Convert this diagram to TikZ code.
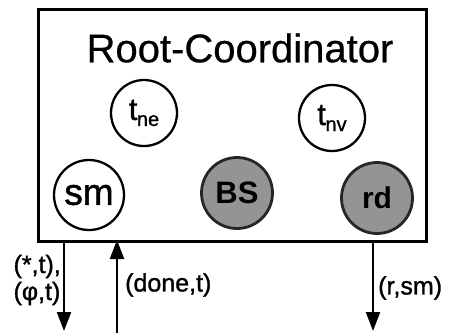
\documentclass[tikz,border=0pt]{standalone}
\usepackage{fontspec}
\setmainfont{Liberation Sans}
\newfontfamily\heavy[FakeBold=1.2]{Liberation Sans}
\newfontfamily\semiheavy[FakeBold=0.5]{Liberation Sans}
\usetikzlibrary{arrows.meta}
\newcommand{\fsz}[1]{\fontsize{#1}{#1}\selectfont}
\newcommand{\tsub}[1]{{\heavy\fsz{31}t}\kern-0.5pt\raisebox{-6pt}{\heavy\fsz{20}#1}}
\tikzset{
  frame/.style={draw, line width=2.6pt},
  state/.style={circle, draw, line width=2.3pt, minimum size=66pt, inner sep=0pt, fill=white},
  busy/.style={circle, draw=black!85, line width=2.8pt, minimum size=71pt, inner sep=0pt, fill=black!42},
  msg/.style={line width=2.2pt, -{Triangle[length=19pt,width=14pt]}},
  lbl/.style={font=\heavy\fontsize{25}{27}\selectfont, inner sep=0pt, align=left}
}
\begin{document}
\begin{tikzpicture}[x=1pt,y=-1pt]
  \useasboundingbox (0,0) rectangle (452,333);
  % coordinator frame
  \node[frame, minimum width=388pt, minimum height=232pt, inner sep=0pt, anchor=north west] (box) at (37,8) {};
  \node[font=\semiheavy\fsz{40}, inner sep=0pt] (title) at (240,48) {Root-Coordinator};
  % variables
  \node[state] (tne) at (144,113) {\tsub{ne}};
  \node[state] (tnv) at (332,118) {\tsub{nv}};
  \node[state, minimum size=70pt] (sm) at (89,195) {\heavy\fsz{37}sm};
  \node[busy] (bs) at (237,193) {\fsz{31}\bfseries BS};
  \node[busy] (rd) at (377,198) {\fsz{30}\bfseries rd};
  % message ends
  \coordinate (o1) at (64,240);
  \coordinate (e1) at (64,331);
  \coordinate (o2) at (117,333);
  \coordinate (e2) at (117,240);
  \coordinate (o3) at (373,240);
  \coordinate (e3) at (373,331);
  \draw[msg] (o1) -- (e1);
  \draw[msg] (o2) -- (e2);
  \draw[msg] (o3) -- (e3);
  % message labels
  \node[lbl, anchor=east] (l1) at (61,280) {(*,t),\\(φ,t)};
  \node[lbl, anchor=west] (l2) at (125,285) {(done,t)};
  \node[lbl, anchor=west] (l3) at (378,288) {(r,sm)};
\end{tikzpicture}
\end{document}
